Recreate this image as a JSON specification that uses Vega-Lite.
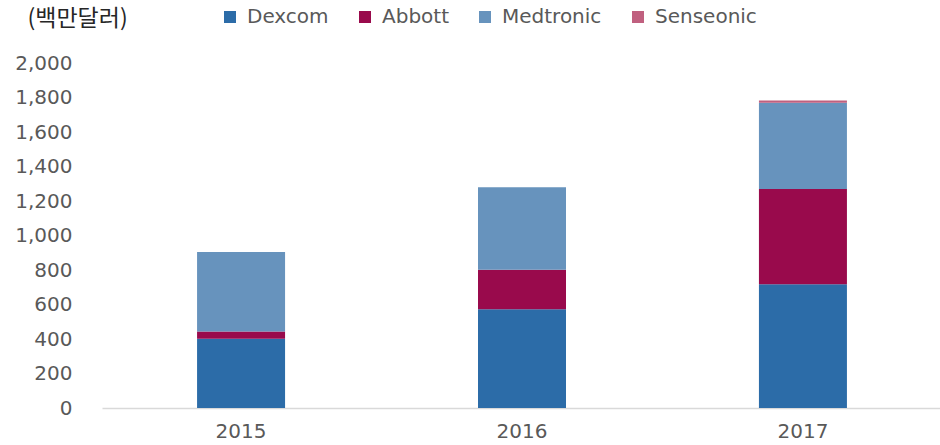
{
  "$schema": "https://vega.github.io/schema/vega-lite/v6.json",
  "width": 840,
  "height": 345,
  "autosize": "none",
  "padding": {"left": 102, "top": 63, "right": 0, "bottom": 37},
  "background": "white",
  "config": {
    "view": {"stroke": null},
    "font": "DejaVu Sans"
  },
  "data": {
    "values": [
      {"year": "2015", "company": "Dexcom", "order": 1, "value": 402},
      {"year": "2015", "company": "Abbott", "order": 2, "value": 42},
      {"year": "2015", "company": "Medtronic", "order": 3, "value": 460},
      {"year": "2015", "company": "Senseonic", "order": 4, "value": 0},
      {"year": "2016", "company": "Dexcom", "order": 1, "value": 573},
      {"year": "2016", "company": "Abbott", "order": 2, "value": 228},
      {"year": "2016", "company": "Medtronic", "order": 3, "value": 478},
      {"year": "2016", "company": "Senseonic", "order": 4, "value": 0},
      {"year": "2017", "company": "Dexcom", "order": 1, "value": 718},
      {"year": "2017", "company": "Abbott", "order": 2, "value": 552},
      {"year": "2017", "company": "Medtronic", "order": 3, "value": 500},
      {"year": "2017", "company": "Senseonic", "order": 4, "value": 12}
    ]
  },
  "mark": {"type": "bar", "width": 88},
  "encoding": {
    "x": {
      "field": "year",
      "type": "nominal",
      "scale": {"paddingInner": 0.69, "paddingOuter": 0.34},
      "axis": {
        "title": null,
        "labelAngle": 0,
        "labelFont": "DejaVu Sans",
        "labelFontSize": 20,
        "labelColor": "#595959",
        "labelPadding": 13,
        "domainColor": "#d9d9d9",
        "domainWidth": 1.5,
        "ticks": false
      }
    },
    "y": {
      "field": "value",
      "type": "quantitative",
      "stack": "zero",
      "scale": {"domain": [0, 2000]},
      "axis": {
        "values": [0, 200, 400, 600, 800, 1000, 1200, 1400, 1600, 1800, 2000],
        "format": ",.0f",
        "grid": false,
        "domain": false,
        "ticks": false,
        "labelFont": "DejaVu Sans",
        "labelFontSize": 20,
        "labelColor": "#595959",
        "labelPadding": 30,
        "title": "(백만달러)",
        "titleFont": "Noto Sans CJK KR",
        "titleAngle": 0,
        "titleX": -75,
        "titleY": -38,
        "titleAlign": "left",
        "titleBaseline": "alphabetic",
        "titleFontSize": 23,
        "titleFontWeight": "normal",
        "titleColor": "#262626"
      }
    },
    "color": {
      "field": "company",
      "type": "nominal",
      "sort": ["Dexcom", "Abbott", "Medtronic", "Senseonic"],
      "scale": {
        "domain": ["Dexcom", "Abbott", "Medtronic", "Senseonic"],
        "range": ["#2c6ca8", "#990a4c", "#6793bd", "#c0607f"]
      },
      "legend": {
        "title": null,
        "orient": "none",
        "legendX": 118,
        "legendY": -56,
        "direction": "horizontal",
        "symbolType": "square",
        "symbolSize": 144,
        "symbolStrokeWidth": 0,
        "labelFont": "DejaVu Sans",
        "labelFontSize": 20,
        "labelColor": "#595959",
        "labelOffset": 7,
        "columnPadding": 26
      }
    },
    "order": {"field": "order", "type": "quantitative"}
  }
}
